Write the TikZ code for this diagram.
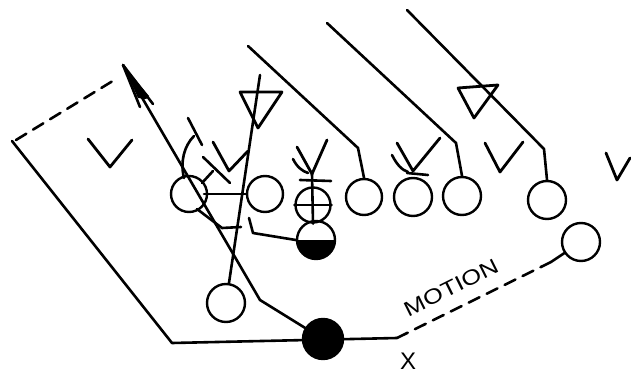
\documentclass[tikz,border=0pt]{standalone}
\usepackage{fontspec}
\setmainfont{Liberation Sans}
\begin{document}
\begin{tikzpicture}[x=1pt,y=-1pt,
  ln/.style={line width=2.6pt, line cap=round, line join=round},
  player/.style={circle, draw, line width=2.4pt, minimum size=36pt, inner sep=0pt},
  filledplayer/.style={circle, fill=black, draw, line width=2.4pt, minimum size=40pt, inner sep=0pt},
  dashline/.style={ln, dash pattern=on 12pt off 8pt},
  defender/.style={ln, line width=2.8pt},
  lbl/.style={font=\fontsize{21}{21}\selectfont, inner sep=0pt}
]
\useasboundingbox (0,0) rectangle (631,374);

% ---- offensive players ----
\node[player] (lt) at (189,194) {};
\node[player] (lg) at (265,194) {};
\node[player, minimum size=35pt] (ctr) at (313,205) {};
\node[player] (rg) at (364,197) {};
\node[player, minimum size=38pt] (rt) at (413,197) {};
\node[player, minimum size=38pt] (te) at (462,196) {};
\node[player, minimum size=38pt] (wr) at (547,200) {};
\node[player, minimum size=38pt] (mot) at (581,242) {};
\node[player, minimum size=38pt] (fb) at (226,303) {};

% quarterback: lower half filled
\coordinate (qbc) at (316,240);
\begin{scope}
  \clip (qbc) circle[radius=19pt];
  \fill (290,240) rectangle (342,262);
\end{scope}
\node[player, minimum size=38pt] (qb) at (qbc) {};

% ---- formation boundary ----
\coordinate (bl) at (172,343);
\coordinate (tl) at (12,141);
\coordinate (dl) at (16,140);
\coordinate (dr) at (116,79);
\coordinate (br) at (397,338);
\coordinate (mt) at (551,262);
\draw[ln] (tl) -- (bl) -- (br);
\draw[dashline] (dl) -- (dr);

% running back (drawn over the base line)
\node[filledplayer] (rb) at (323,339) {};

% motion path
\draw[dashline] (br) -- (mt);
\draw[ln] (mt) -- (mot);
\node[lbl, rotate=26.5] (motion) at (451,288) {\scalebox{1.22}[1]{MOTION}};
\node[lbl, font=\fontsize{24}{24}\selectfont] (xmark) at (408,361) {X};

% ---- running back route with arrow ----
\coordinate (rbk) at (260,300);
\coordinate (rbtip) at (123,65);
\coordinate (barbl) at (140,107);
\coordinate (barbr) at (153,104);
\draw[ln] (rb) -- (rbk) -- (rbtip);
\draw[ln] (rbtip) -- (barbl);
\draw[ln] (rbtip) -- (barbr);
\fill (rbtip) -- (138,98) -- (146,99) -- (149,96) -- cycle;

% fullback route up through the line
\coordinate (fbend) at (260,75);
\draw[ln] (fb) -- (fbend);

% tackle and quarterback lines
\draw[ln] (204,194) -- (lg.west);
\draw[ln] (197,209) -- (222,228) -- (241,227);
\draw[ln] (qb.west) -- (253,233) -- (249,218);
\draw[ln] (202,183) -- (213,171);

% ---- blocking lines from deep ----
\coordinate (b1s) at (248,46);  \coordinate (b1c) at (358,148);
\coordinate (b2s) at (327,23);  \coordinate (b2c) at (456,143);
\coordinate (b3s) at (407,10);  \coordinate (b3c) at (544,149);
\draw[ln] (b1s) -- (b1c) -- (rg.north);
\draw[ln] (b2s) -- (b2c) -- (te.north);
\draw[ln] (b3s) -- (b3c) -- (wr.north);

% ---- center: X over a crossed circle ----
\draw[defender] (297,147) -- (312,174) -- (327,140);
\draw[ln] (293,159) .. controls (297,167) and (302,171) .. (308,173);
\draw[ln] (300,180) -- (331,181);
\draw[ln] (312,174) -- (ctr.south);
\draw[ln] (ctr.west) -- (ctr.east);

% ---- tackle: X over circle ----
\draw[defender] (397,143) -- (413,171) -- (440,138);
\draw[ln] (392,155) .. controls (397,165) and (402,170) .. (408,172);
\draw[ln] (407,173) -- (428,175);

% ---- defenders ----
\draw[defender] (240,92) -- (282,92) -- (258,128) -- cycle;
\draw[defender] (458,88) -- (498,85) -- (474,118) -- cycle;
\draw[defender] (88,139) -- (110,167) -- (132,140);
\draw[defender] (485,143) -- (500,172) -- (523,142);
\draw[defender] (606,153) -- (617,180) -- (630,158);

% linebacker over the tackle
\draw[defender] (213,142) -- (229,171) -- (248,151);
\draw[ln] (203,157) -- (230,183);
\draw[ln] (188,118) -- (202,145);
\draw[ln] (194,136) .. controls (184,146) and (180,162) .. (184,178);

\end{tikzpicture}
\end{document}
